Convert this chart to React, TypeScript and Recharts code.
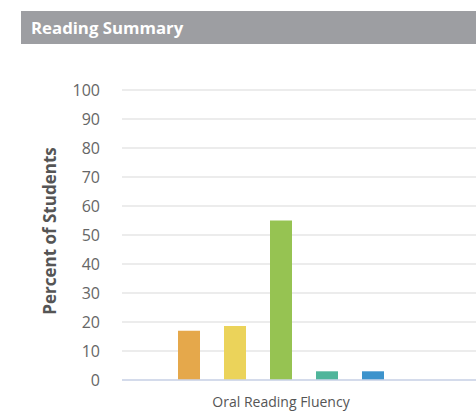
import { BarChart, Bar, XAxis, YAxis, CartesianGrid } from "recharts";

const categories = ["Oral Reading Fluency"];
const seriesNames = ["Level 1", "Level 2", "Level 3", "Level 4", "Level 5"];
const level1 = [17];
const level2 = [18.6];
const level3 = [55];
const level4 = [3];
const level5 = [3];
const yTicks = [0, 10, 20, 30, 40, 50, 60, 70, 80, 90, 100];

const colors = ["#e5a84b", "#ebd35a", "#96c352", "#4fb59b", "#3d93cc"];
const seriesValues = [level1, level2, level3, level4, level5];

const data = categories.map((name, i) => {
  const row: any = { name };
  seriesNames.forEach((s, j) => {
    row[s] = seriesValues[j][i];
  });
  return row;
});

const font = "'Open Sans', sans-serif";

export default function App() {
  return (
    <div
      style={{
        position: "absolute",
        left: 0,
        top: 0,
        width: 476,
        height: 415,
        overflow: "hidden",
        background: "#fff",
        fontFamily: font,
      }}
    >
      <div
        style={{
          position: "absolute",
          left: 21,
          top: 11,
          width: 455,
          height: 33,
          background: "#9d9ea2",
          color: "#fff",
          fontWeight: 700,
          fontSize: 16.8,
          lineHeight: "33px",
          paddingLeft: 10,
          boxSizing: "border-box",
        }}
      >
        Reading Summary
      </div>
      <div style={{ position: "absolute", left: 0, top: 0 }}>
        <BarChart
          width={476}
          height={415}
          data={data}
          margin={{ top: 90, right: 0, left: 0, bottom: 0 }}
          barSize={22}
          barGap={24}
        >
          <CartesianGrid vertical={false} stroke="#e6e6e6" strokeWidth={1.5} />
          <XAxis
            dataKey="name"
            height={35}
            tickLine={false}
            tickSize={0}
            tickMargin={17}
            axisLine={{ stroke: "#ccd6eb", strokeWidth: 1.5 }}
            padding={{ left: 0, right: 36 }}
            tick={{ fill: "#555", fontSize: 14, fontFamily: font }}
          />
          <YAxis
            width={122}
            domain={[0, 100]}
            ticks={yTicks}
            interval={0}
            tickLine={false}
            axisLine={false}
            tickSize={0}
            tickMargin={22}
            tick={{ fill: "#666", fontSize: 16, fontFamily: font }}
            label={{
              content: () => (
                <text
                  x={56}
                  y={231}
                  transform="rotate(-90 56 231)"
                  textAnchor="middle"
                  fill="#555"
                  fontSize={17}
                  fontWeight={700}
                  fontFamily={font}
                >
                  Percent of Students
                </text>
              ),
            }}
          />
          {seriesNames.map((s, j) => (
            <Bar key={s} dataKey={s} fill={colors[j]} isAnimationActive={false} />
          ))}
        </BarChart>
      </div>
    </div>
  );
}
